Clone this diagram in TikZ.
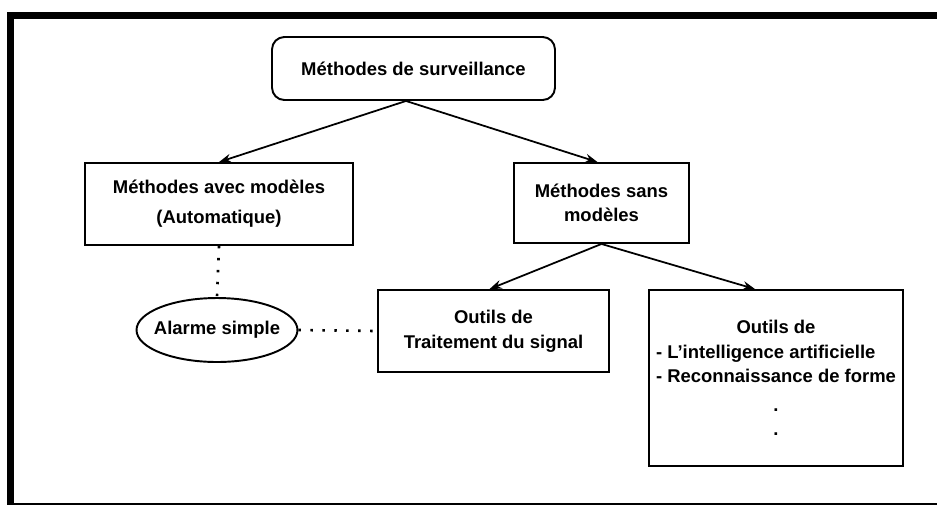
\documentclass[tikz,border=0pt]{standalone}
\usepackage{fontspec}
\setmainfont{Liberation Sans}
\usepackage{calc}
\usetikzlibrary{arrows.meta,shapes.geometric}
\begin{document}
\begin{tikzpicture}[x=0.02cm,y=-0.02cm,
    font=\fontsize{10.5}{14}\selectfont\bfseries,
    boite/.style={draw,line width=1.1pt,align=center,inner sep=2pt},
    fleche/.style={-{Stealth[length=7pt,width=5pt]},line width=1pt},
    pointille/.style={line width=1.5pt,dash pattern=on 1.4pt off 5.4pt}]
    \useasboundingbox (0,0) rectangle (937,505);
    \fill (7,12) rectangle (937,19);
    \fill (7,12) rectangle (14,505);
    \fill (7,503) rectangle (937,505);
    \node[boite,rounded corners=7pt,minimum width=5.66cm,minimum height=1.26cm] (surv) at (413.5,68.5) {Méthodes de surveillance};
    \node[boite,minimum width=5.36cm,minimum height=1.64cm] (avec) at (219,204) {Méthodes avec modèles\\[3pt](Automatique)};
    \node[boite,minimum width=3.5cm,minimum height=1.6cm] (sans) at (601.5,203) {Méthodes sans\\modèles};
    \node[boite,minimum width=4.62cm,minimum height=1.64cm] (trait) at (493.5,331) {Outils de\\Traitement du signal};
    \node[boite,minimum width=5.08cm,minimum height=3.52cm] (ia) at (776,378) {Outils de\\\makebox[\widthof{- Reconnaissance de forme}][l]{- L'intelligence artificielle}\\- Reconnaissance de forme\\[2pt].\\.};
    \node[draw,ellipse,line width=1.1pt,minimum width=3.2cm,minimum height=1.28cm,inner xsep=-3.5pt,inner ysep=1pt] (alarme) at (217,330) {Alarme simple};
    \draw[fleche] ([xshift=-0.15cm]surv.south) -- (avec.north);
    \draw[fleche] ([xshift=-0.15cm]surv.south) -- ([xshift=-0.08cm]sans.north);
    \draw[fleche] (sans.south) -- ([xshift=-0.08cm]trait.north);
    \draw[fleche] (sans.south) -- ([xshift=-0.42cm]ia.north);
    \draw[pointille] (avec.south) -- (alarme.north);
    \draw[pointille] (alarme.east) -- (trait.west);
\end{tikzpicture}
\end{document}
